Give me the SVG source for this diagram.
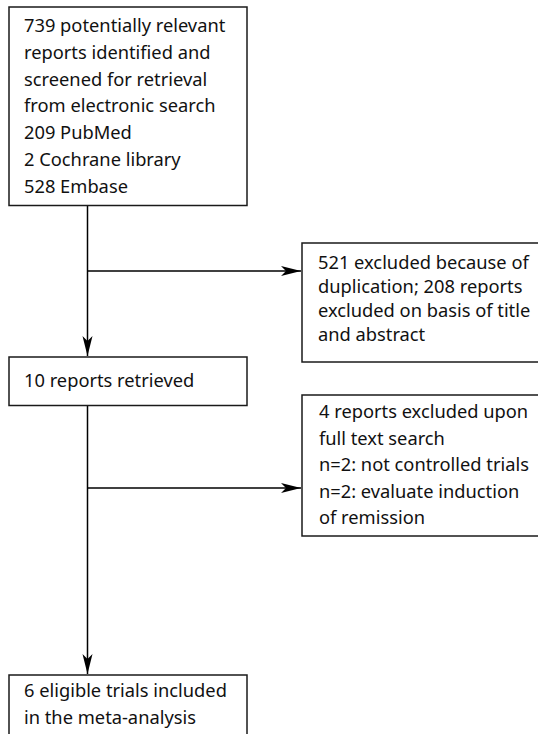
<svg xmlns="http://www.w3.org/2000/svg" width="538" height="734" viewBox="0 0 538 734">
<defs>
<style>
.box{fill:#fff;stroke:#1a1a1a;stroke-width:1.5}
.t{font-family:"Noto Sans","Open Sans",sans-serif;font-size:18.3px;fill:#111}
.ln{stroke:#000;stroke-width:1.5;fill:none}
</style>
<marker id="ah" markerWidth="22" markerHeight="12" refX="20" refY="5" orient="auto" markerUnits="userSpaceOnUse">
<path d="M0,0 L20,5 L0,10 L5,5 Z" fill="#000"/>
</marker>
</defs>
<rect width="538" height="734" fill="#fff"/>
<g id="connectors">
<line class="ln" x1="87.5" y1="206" x2="87.5" y2="356" marker-end="url(#ah)"/>
<line class="ln" x1="87.5" y1="271" x2="301" y2="271" marker-end="url(#ah)"/>
<line class="ln" x1="87.5" y1="406" x2="87.5" y2="674" marker-end="url(#ah)"/>
<line class="ln" x1="87.5" y1="488" x2="301" y2="488" marker-end="url(#ah)"/>
</g>
<g id="n1">
<rect class="box" x="9" y="7" width="238" height="198.5"/>
<text class="t" x="24"><tspan x="24" y="32">739 potentially relevant</tspan><tspan x="24" y="58.8">reports identified and</tspan><tspan x="24" y="85.6">screened for retrieval</tspan><tspan x="24" y="112.4">from electronic search</tspan><tspan x="24" y="139.2">209 PubMed</tspan><tspan x="24" y="166">2 Cochrane library</tspan><tspan x="24" y="192.8">528 Embase</tspan></text>
</g>
<g id="n2">
<rect class="box" x="302" y="243" width="250" height="119"/>
<text class="t"><tspan x="318" y="269">521 excluded because of</tspan><tspan x="318" y="293">duplication; 208 reports</tspan><tspan x="318" y="317">excluded on basis of title</tspan><tspan x="318" y="341">and abstract</tspan></text>
</g>
<g id="n3">
<rect class="box" x="9" y="357" width="238" height="48.5"/>
<text class="t" x="24" y="387">10 reports retrieved</text>
</g>
<g id="n4">
<rect class="box" x="302" y="395" width="250" height="141"/>
<text class="t"><tspan x="319" y="418">4 reports excluded upon</tspan><tspan x="319" y="444.5">full text search</tspan><tspan x="319" y="471">n=2: not controlled trials</tspan><tspan x="319" y="497.5">n=2: evaluate induction</tspan><tspan x="319" y="524">of remission</tspan></text>
</g>
<g id="n5">
<rect class="box" x="9" y="675" width="238" height="80"/>
<text class="t"><tspan x="24" y="697">6 eligible trials included</tspan><tspan x="24" y="724">in the meta-analysis</tspan></text>
</g>
</svg>
